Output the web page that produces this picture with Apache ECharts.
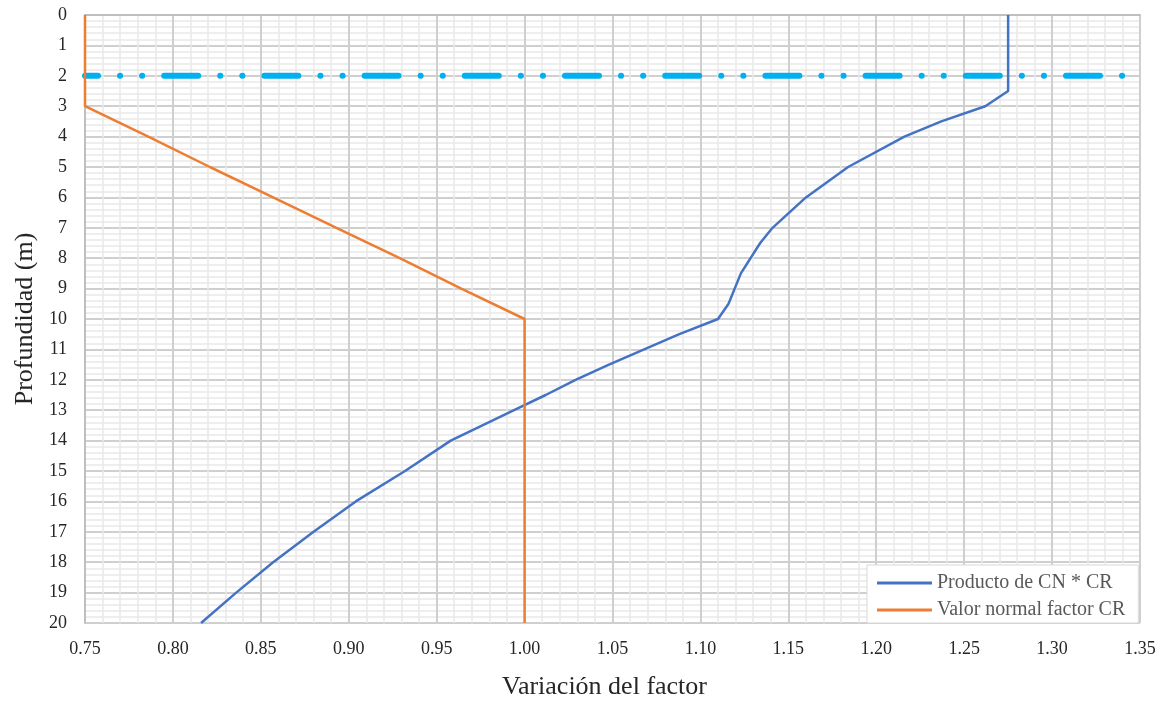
<!DOCTYPE html>
<html>
<head>
<meta charset="utf-8">
<title>Variación del factor con la profundidad</title>
<script src="https://cdn.jsdelivr.net/npm/echarts@6/dist/echarts.min.js"></script>
<style>
  html, body { margin: 0; padding: 0; background: #ffffff; }
  #chart { width: 1172px; height: 705px; }
</style>
</head>
<body>
<div id="chart"></div>
<script>
// Producto de CN * CR: depth (m) and factor
const productoDepth  = [0, 2.5, 3, 3.5, 4, 5, 6, 7, 7.5, 8.5, 9.5, 10, 10.5, 11, 11.5, 12, 12.5, 13, 13.5, 14, 15, 16, 17, 18, 19, 20];
const productoFactor = [1.275, 1.275, 1.262, 1.237, 1.216, 1.184, 1.160, 1.141, 1.134, 1.123, 1.116, 1.110, 1.088, 1.068, 1.048, 1.029, 1.012, 0.994, 0.976, 0.958, 0.932, 0.904, 0.880, 0.857, 0.836, 0.816];

// Valor normal factor CR: depth (m) and factor
const normalDepth  = [0, 3, 4, 5, 6, 7, 8, 9, 10, 20];
const normalFactor = [0.75, 0.75, 0.786, 0.821, 0.857, 0.893, 0.929, 0.964, 1.0, 1.0];

// Horizontal reference line at 2 m depth
const refDepth  = [2, 2];
const refFactor = [0.75, 1.35];

// Axis ranges and tick steps
const xMin = 0.75, xMax = 1.35, xStep = 0.05;
const yMin = 0, yMax = 20, yStep = 1;

const pairs = (xs, ys) => xs.map((x, i) => [x, ys[i]]);

const serif = 'Liberation Serif, Times New Roman, serif';
const chart = echarts.init(document.getElementById('chart'), null, { renderer: 'canvas' });

chart.setOption({
  animation: false,
  backgroundColor: '#ffffff',
  grid: { left: 85, top: 15, right: 32, bottom: 82, containLabel: false },
  legend: {
    data: ['Producto de CN * CR', 'Valor normal factor CR'],
    orient: 'vertical',
    left: 867,
    top: 565,
    padding: [8, 13, 3, 10],
    icon: 'rect',
    itemWidth: 55,
    itemHeight: 3,
    itemGap: 7,
    backgroundColor: '#ffffff',
    borderColor: '#d9d9d9',
    borderWidth: 1,
    textStyle: { fontFamily: serif, fontSize: 20, color: '#595959', lineHeight: 20 }
  },
  xAxis: {
    type: 'value',
    min: xMin, max: xMax, interval: xStep,
    name: 'Variación del factor',
    nameLocation: 'middle',
    nameGap: 51,
    nameTextStyle: { fontFamily: serif, fontSize: 26, color: '#262626', padding: [0, 16, 0, 0] },
    axisLine: { show: true, lineStyle: { color: '#bfbfbf', width: 2 } },
    axisTick: { show: false },
    axisLabel: { fontFamily: serif, fontSize: 18, color: '#262626', margin: 17,
                 formatter: v => v.toFixed(2) },
    splitLine: { show: true, lineStyle: { color: '#cfcfcf', width: 2 } },
    minorTick: { show: false, splitNumber: 5 },
    minorSplitLine: { show: true, lineStyle: { color: '#e9e9e9', width: 1.5 } }
  },
  yAxis: {
    type: 'value',
    inverse: true,
    min: yMin, max: yMax, interval: yStep,
    name: 'Profundidad (m)',
    nameLocation: 'middle',
    nameGap: 47,
    nameRotate: 90,
    nameTextStyle: { fontFamily: serif, fontSize: 26, color: '#262626' },
    axisLine: { show: true, lineStyle: { color: '#bfbfbf', width: 2 } },
    axisTick: { show: false },
    axisLabel: { fontFamily: serif, fontSize: 18, color: '#262626', margin: 18 },
    splitLine: { show: true, lineStyle: { color: '#cfcfcf', width: 2 } },
    minorTick: { show: false, splitNumber: 5 },
    minorSplitLine: { show: true, lineStyle: { color: '#e9e9e9', width: 1.5 } }
  },
  series: [
    {
      name: 'Nivel 2 m',
      type: 'line',
      data: pairs(refFactor, refDepth),
      symbol: 'none',
      silent: true,
      z: 1,
      lineStyle: {
        color: '#00B0F0',
        width: 6,
        cap: 'round',
        type: [34, 22, 0.1, 22, 0.1, 22],
        dashOffset: 21
      }
    },
    {
      name: 'Producto de CN * CR',
      type: 'line',
      data: pairs(productoFactor, productoDepth),
      symbol: 'none',
      z: 3,
      color: '#4472C4',
      itemStyle: { color: '#4472C4' },
      lineStyle: { color: '#4472C4', width: 2.5 }
    },
    {
      name: 'Valor normal factor CR',
      type: 'line',
      data: pairs(normalFactor, normalDepth),
      symbol: 'none',
      z: 3,
      color: '#ED7D31',
      itemStyle: { color: '#ED7D31' },
      lineStyle: { color: '#ED7D31', width: 2.5 }
    }
  ]
});
</script>
</body>
</html>
